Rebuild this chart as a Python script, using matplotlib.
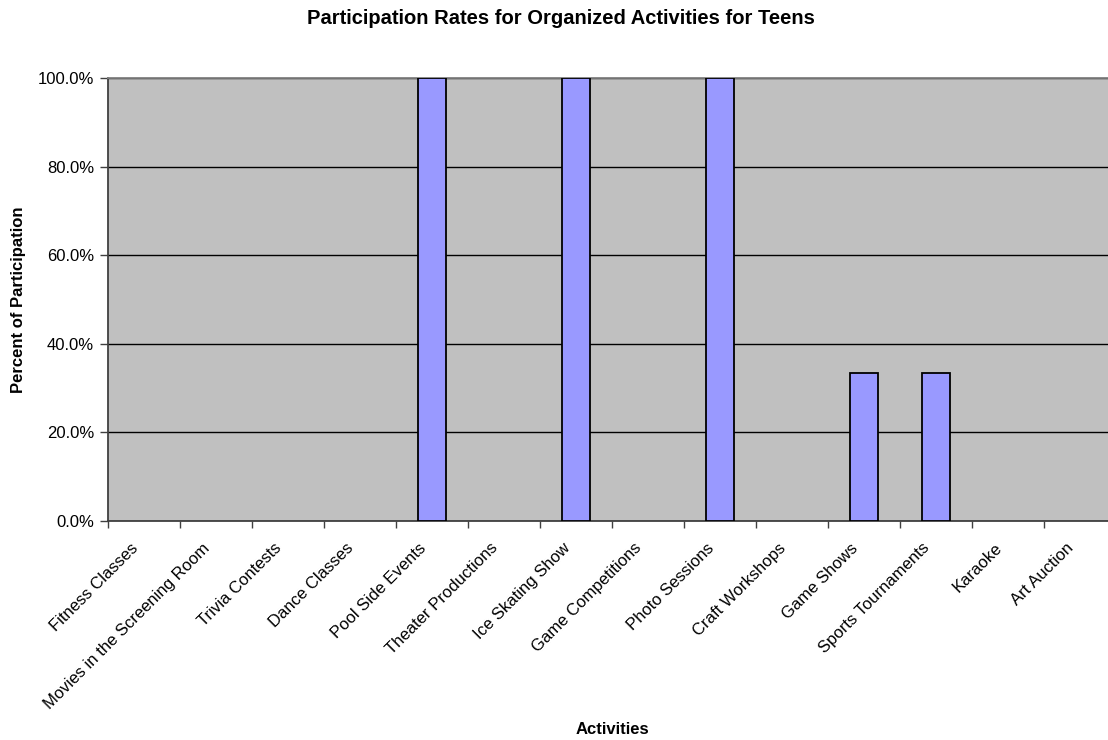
import numpy as np
import matplotlib.pyplot as plt
from matplotlib.ticker import FuncFormatter, FixedLocator

plt.rcParams['font.family'] = ['Liberation Sans', 'DejaVu Sans']

activities = ["Fitness Classes", "Movies in the Screening Room", "Trivia Contests",
              "Dance Classes", "Pool Side Events", "Theater Productions",
              "Ice Skating Show", "Game Competitions", "Photo Sessions",
              "Craft Workshops", "Game Shows", "Sports Tournaments", "Karaoke",
              "Art Auction"]
rates = [0.0, 0.0, 0.0, 0.0, 1.0, 0.0, 1.0, 0.0, 1.0, 0.0, 1/3, 1/3, 0.0, 0.0]
yticks = [0.0, 0.2, 0.4, 0.6, 0.8, 1.0]

W, H = 1108, 740
fig = plt.figure(figsize=(W / 100, H / 100), dpi=100)
ax = fig.add_axes([108 / W, (H - 521) / H, 1008 / W, 443 / H])
ax.set_facecolor("#c0c0c0")

x = np.arange(len(activities))
bars = ax.bar(x + 0.5, rates, width=0.4, color="#9999ff", edgecolor="black",
              linewidth=1.3, zorder=3)
# empty categories get no outline either
for b, r in zip(bars, rates):
    if r == 0:
        b.set_visible(False)

ax.set_xlim(0, len(activities))
ax.set_ylim(0, 1.0)
ax.set_yticks(yticks)
ax.yaxis.set_major_formatter(FuncFormatter(lambda v, p: f"{v * 100:.1f}%"))
ax.grid(axis="y", color="black", linewidth=1, zorder=1)

# ticks sit on category boundaries, labels on the centres
ax.xaxis.set_major_locator(FixedLocator(np.arange(len(activities) + 1)))
ax.set_xticklabels([])
ax.tick_params(axis="x", length=5, width=1, color="#404040")
ax.tick_params(axis="y", length=6, width=1, color="#404040", labelsize=12, pad=4)
for i, name in enumerate(activities):
    ax.annotate(name, xy=(i + 0.5, 0), xycoords=("data", "axes fraction"),
                xytext=(-10, -14), textcoords="offset points",
                rotation=45, ha="right", va="top", rotation_mode="anchor",
                fontsize=12)

for side in ["left", "bottom"]:
    ax.spines[side].set_color("#404040")
    ax.spines[side].set_linewidth(1.3)
ax.spines["top"].set_color("#808080")
ax.spines["top"].set_linewidth(1.3)
ax.spines["right"].set_visible(False)

fig.text(561 / W, 1 - 19 / H, "Participation Rates for Organized Activities for Teens",
         ha="center", va="center", fontsize=14.5, fontweight="bold")
fig.text(19 / W, 1 - 300 / H, "Percent of Participation", rotation=90,
         ha="center", va="center", fontsize=12, fontweight="bold")
fig.text(612 / W, 1 - 730 / H, "Activities", ha="center", va="center",
         fontsize=12, fontweight="bold")

fig.savefig("out.png", dpi=100)
